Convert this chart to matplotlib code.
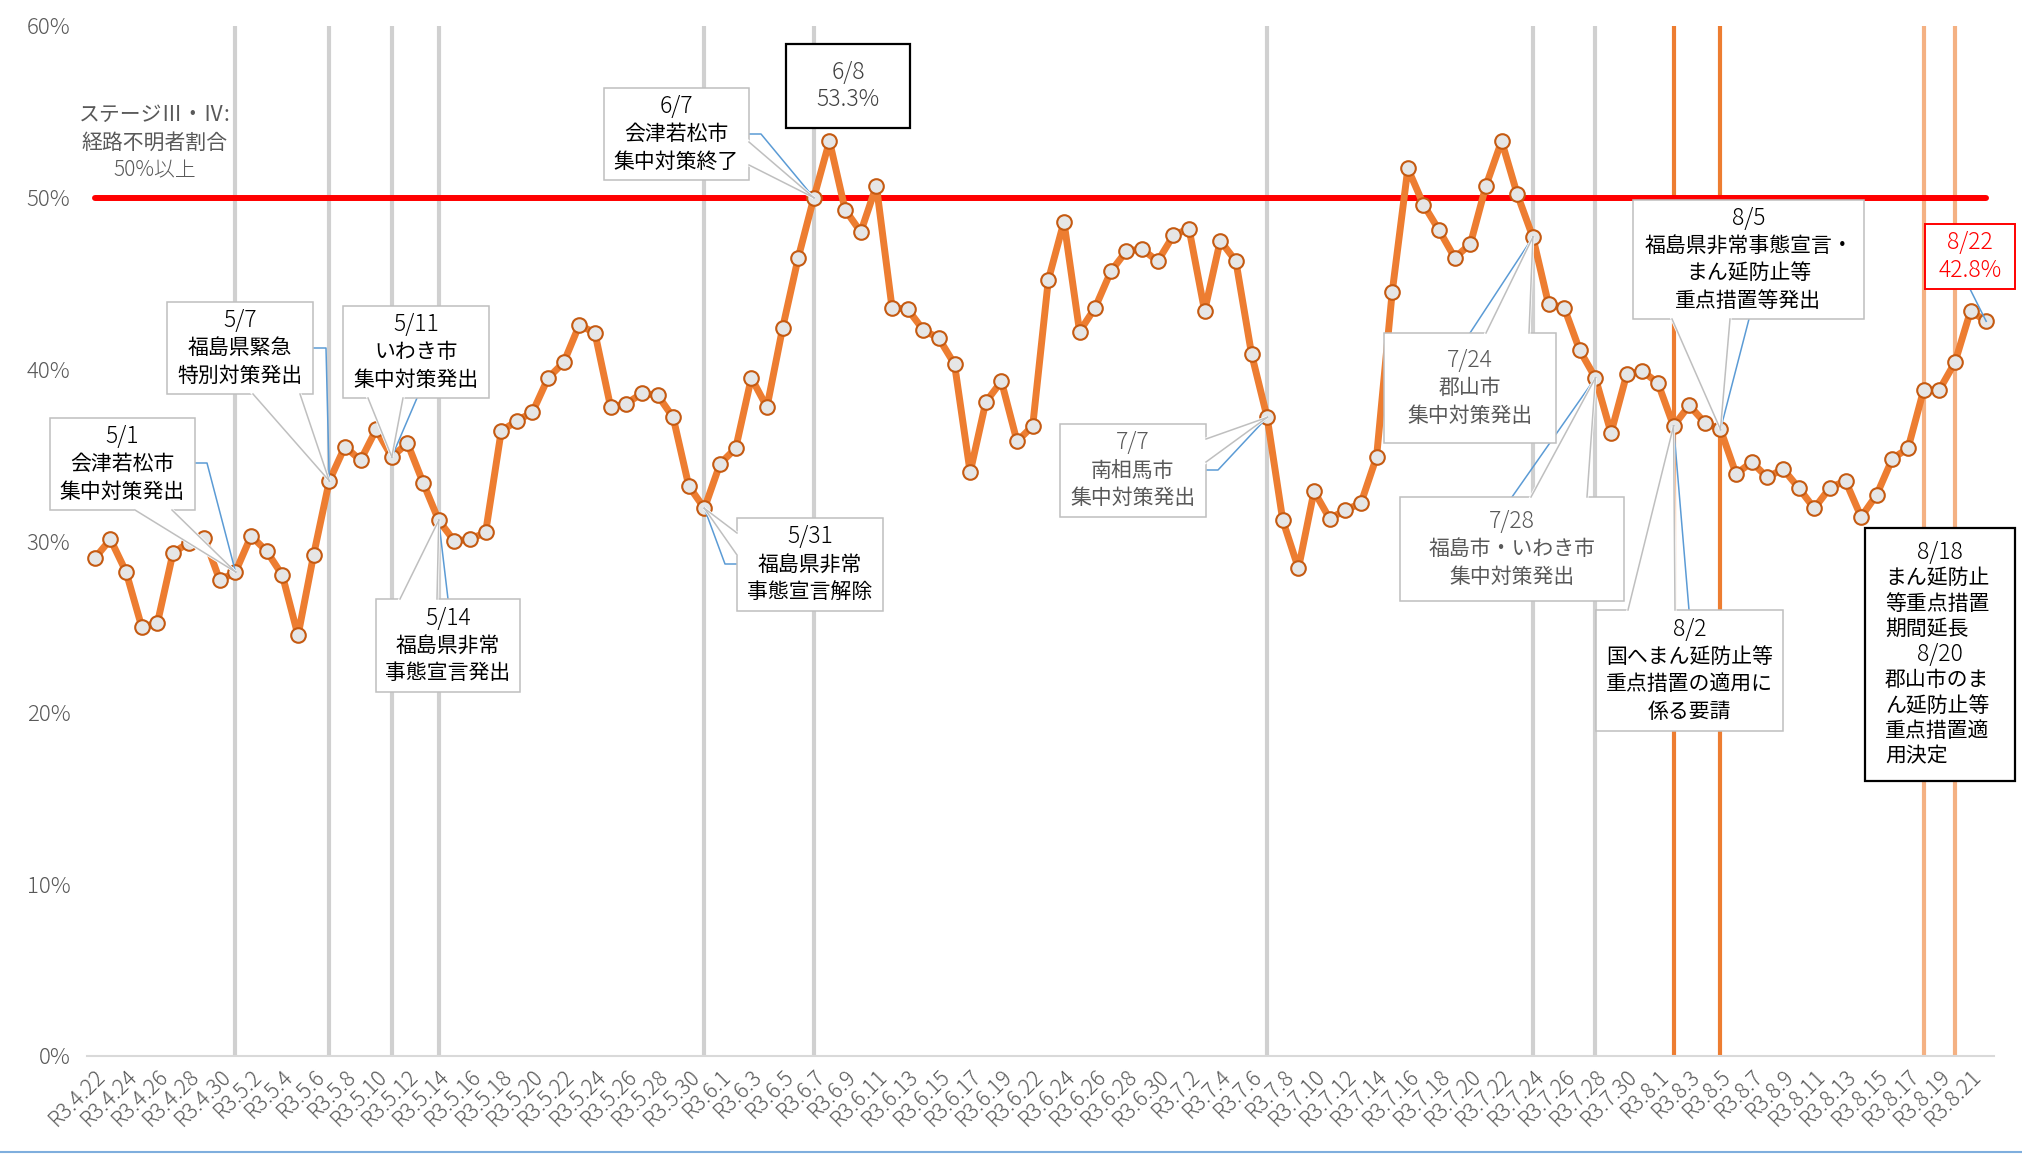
import matplotlib
matplotlib.use("Agg")
import matplotlib.pyplot as plt
from matplotlib.patches import Rectangle, Polygon
from matplotlib.lines import Line2D
from matplotlib.transforms import IdentityTransform

plt.rcParams['font.family'] = ['Noto Sans CJK JP', 'DejaVu Sans']
plt.rcParams['font.weight'] = 'light'

# --- data -------------------------------------------------------------
dates = ([f"4/{d}" for d in range(22, 31)] + [f"5/{d}" for d in range(1, 32)]
         + [f"6/{d}" for d in range(1, 21)] + [f"6/{d}" for d in range(22, 31)]
         + [f"7/{d}" for d in range(1, 32)] + [f"8/{d}" for d in range(1, 23)])

rate = [
    29.0, 30.1, 28.2, 25.0, 25.2, 29.3, 29.9, 30.2, 27.7,              # 4/22-4/30
    28.2, 30.3, 29.4, 28.0, 24.5, 29.2, 33.5, 35.5, 34.7, 36.5,        # 5/1-5/10
    34.9, 35.7, 33.4, 31.2, 30.0, 30.1, 30.5, 36.4, 37.0, 37.5,        # 5/11-5/20
    39.5, 40.4, 42.6, 42.1, 37.8, 38.0, 38.6, 38.5, 37.2, 33.2, 31.9,  # 5/21-5/31
    34.5, 35.4, 39.5, 37.8, 42.4, 46.5, 50.0, 53.3, 49.3, 48.0,        # 6/1-6/10
    50.7, 43.6, 43.5, 42.3, 41.8, 40.3, 34.0, 38.1, 39.3, 35.8,        # 6/11-6/20
    36.7, 45.2, 48.6, 42.2, 43.6, 45.7, 46.9, 47.0, 46.3,              # 6/22-6/30
    47.8, 48.2, 43.4, 47.5, 46.3, 40.9, 37.2, 31.2, 28.4, 32.9,        # 7/1-7/10
    31.3, 31.8, 32.2, 34.9, 44.5, 51.7, 49.6, 48.1, 46.5, 47.3,        # 7/11-7/20
    50.7, 53.3, 50.2, 47.7, 43.8, 43.6, 41.1, 39.5, 36.3, 39.7, 39.9,  # 7/21-7/31
    39.2, 36.7, 37.9, 36.9, 36.5, 33.9, 34.6, 33.7, 34.2, 33.1,        # 8/1-8/10
    31.9, 33.1, 33.5, 31.4, 32.7, 34.8, 35.4, 38.8, 38.8, 40.4,        # 8/11-8/20
    43.4, 42.8,                                                        # 8/21-8/22
]

threshold = 50
yticks = [0, 10, 20, 30, 40, 50, 60]
gray_events = ["5/1", "5/7", "5/11", "5/14", "5/31", "6/7", "7/7", "7/24", "7/28"]
orange_events = ["8/2", "8/5"]
light_events = ["8/18", "8/20"]

stage_text = ["ステージⅢ・Ⅳ:", "経路不明者割合", "50%以上"]

# callouts: text lines, target date, box (px, top-down), wedge base, leader path
callouts = [
    dict(lines=["5/1", "会津若松市", "集中対策発出"], at="5/1", box=(50, 418, 195, 510),
         wedge=[(135, 510), (172, 510)], leader=[(195, 463), (207, 463)], color="#000000"),
    dict(lines=["5/7", "福島県緊急", "特別対策発出"], at="5/7", box=(167, 302, 313, 394),
         wedge=[(253, 394), (300, 394)], leader=[(313, 348), (326, 348)], color="#000000"),
    dict(lines=["5/11", "いわき市", "集中対策発出"], at="5/11", box=(343, 306, 489, 398),
         wedge=[(368, 398), (403, 398)], leader=[(417, 398)], color="#000000"),
    dict(lines=["5/14", "福島県非常", "事態宣言発出"], at="5/14", box=(376, 599, 520, 692),
         wedge=[(400, 599), (437, 599)], leader=[(448, 599)], color="#000000"),
    dict(lines=["5/31", "福島県非常", "事態宣言解除"], at="5/31", box=(737, 518, 883, 611),
         wedge=[(737, 533), (737, 555)], leader=[(737, 564), (725, 564)], color="#000000"),
    dict(lines=["6/7", "会津若松市", "集中対策終了"], at="6/7", box=(604, 88, 749, 180),
         wedge=[(749, 142), (749, 165)], leader=[(749, 134), (761, 134)], color="#000000"),
    dict(lines=["7/7", "南相馬市", "集中対策発出"], at="7/7", box=(1060, 424, 1206, 517),
         wedge=[(1206, 439), (1206, 462)], leader=[(1206, 470), (1218, 470)], color="#595959"),
    dict(lines=["7/24", "郡山市", "集中対策発出"], at="7/24", box=(1384, 333, 1556, 443),
         wedge=[(1486, 333), (1529, 333)], leader=[(1470, 333)], color="#595959"),
    dict(lines=["7/28", "福島市・いわき市", "集中対策発出"], at="7/28", box=(1400, 497, 1624, 601),
         wedge=[(1531, 497), (1587, 497)], leader=[(1512, 497)], color="#595959"),
    dict(lines=["8/2", "国へまん延防止等", "重点措置の適用に", "係る要請"], at="8/2",
         box=(1596, 610, 1783, 731), wedge=[(1628, 610), (1675, 610)], leader=[(1689, 610)],
         color="#000000"),
    dict(lines=["8/5", "福島県非常事態宣言・", "まん延防止等", "重点措置等発出"], at="8/5",
         box=(1633, 200, 1864, 319), wedge=[(1672, 319), (1730, 319)], leader=[(1749, 319)],
         color="#000000"),
    dict(lines=["6/8", "53.3%"], at="6/8", box=(786, 44, 910, 128), wedge=None, leader=None,
         color="#404040", edge="#000000", lw=1.6, line_h=28),
    dict(lines=["8/22", "42.8%"], at="8/22", box=(1925, 224, 2015, 289), wedge=None,
         leader=[(1970, 289)], color="#FF0000", edge="#FF0000", lw=1.4, line_h=27.5),
    dict(lines=["8/18", "まん延防止", "等重点措置", "期間延長", "8/20", "郡山市のま",
                "ん延防止等", "重点措置適", "用決定"], at="8/18", box=(1865, 528, 2015, 781),
         wedge=None, leader=None, color="#000000", edge="#000000", lw=1.6, line_h=25.5,
         align="left"),
]

# --- figure -----------------------------------------------------------
W, H = 2022, 1154
fig = plt.figure(figsize=(W / 100, H / 100), dpi=100)
ax = fig.add_axes([87 / W, 1 - 1056 / H, (1994 - 87) / W, (1056 - 26) / H])

x = list(range(len(rate)))
for d in gray_events:
    ax.axvline(dates.index(d), color="#D0D0D0", lw=3, zorder=1)
for d in orange_events:
    ax.axvline(dates.index(d), color="#ED7D31", lw=3, zorder=1)
for d in light_events:
    ax.axvline(dates.index(d), color="#F4B183", lw=3, zorder=1)

ax.plot([0, len(rate) - 1], [threshold, threshold], color="#FF0000", lw=4.3,
        solid_capstyle="round", zorder=2)
ax.plot(x, rate, color="#ED7D31", lw=5, marker="o", ms=10.5, mfc="#E6E6E6",
        mec="#C55A11", mew=1.5, zorder=3)

ax.set_xlim(-0.5, len(rate) - 0.5)
ax.set_ylim(0, 60)
ax.set_yticks(yticks)
ax.set_yticklabels([f"{v}%" for v in yticks], fontsize=16, color="#595959")
ax.set_xticks(x[::2])
ax.set_xticklabels(["R3." + d.replace("/", ".") for d in dates[::2]], rotation=45,
                   ha="right", va="top", rotation_mode="anchor", fontsize=15.5,
                   color="#595959")
ax.tick_params(length=0)
ax.tick_params(axis="y", pad=12)
ax.tick_params(axis="x", pad=7)
for s in ["top", "right", "left"]:
    ax.spines[s].set_visible(False)
ax.spines["bottom"].set_color("#D9D9D9")
ax.spines["bottom"].set_linewidth(1.5)

# --- annotations (pixel layout, top-down) ------------------------------
IT = IdentityTransform()


def P(px, py):
    return (px, H - py)


def data_pt(d):
    i = dates.index(d)
    return tuple(ax.transData.transform((i, rate[i])))


for s, yy in zip(stage_text, [115, 143, 170]):
    fig.text(*P(155, yy), s, transform=IT, ha="center", va="center", fontsize=15,
             color="#595959", weight="normal" if not s[0].isdigit() else "light")

for c in callouts:
    x0, y0, x1, y1 = c["box"]
    tip = data_pt(c["at"])
    if c.get("leader"):
        pts = [P(*p) for p in c["leader"]] + [tip]
        fig.add_artist(Line2D([p[0] for p in pts], [p[1] for p in pts], transform=IT,
                              color="#5B9BD5", lw=1.1, zorder=19))
    fig.add_artist(Rectangle(P(x0, y1), x1 - x0, y1 - y0, transform=IT, fc="white",
                             ec=c.get("edge", "#BFBFBF"), lw=c.get("lw", 1.1), zorder=20))
    if c["wedge"]:
        a, b = P(*c["wedge"][0]), P(*c["wedge"][1])
        fig.add_artist(Polygon([a, b, tip], closed=True, transform=IT, fc="white",
                               ec="white", lw=2.2, zorder=21))
        for e in (a, b):
            fig.add_artist(Line2D([e[0], tip[0]], [e[1], tip[1]], transform=IT,
                                  color="#BFBFBF", lw=1.1, zorder=22))
    lines = c["lines"]
    lh = c.get("line_h", 27.5)
    cy = (y0 + y1) / 2
    n = len(lines)
    for k, s in enumerate(lines):
        yy = cy + (k - (n - 1) / 2) * lh
        big = s[0].isdigit()
        if c.get("align") == "left" and not big:
            xx, ha = x0 + 20, "left"
        else:
            xx, ha = (x0 + x1) / 2, "center"
        fig.text(*P(xx, yy), s, transform=IT, ha=ha, va="center",
                 fontsize=16.5 if big else 15, color=c["color"], zorder=23,
                 weight="light" if big else "normal")

fig.add_artist(Line2D([0, W], [H - 1152, H - 1152], transform=IT, color="#7FAEDD", lw=1.5))

fig.savefig("out.png", dpi=100)
